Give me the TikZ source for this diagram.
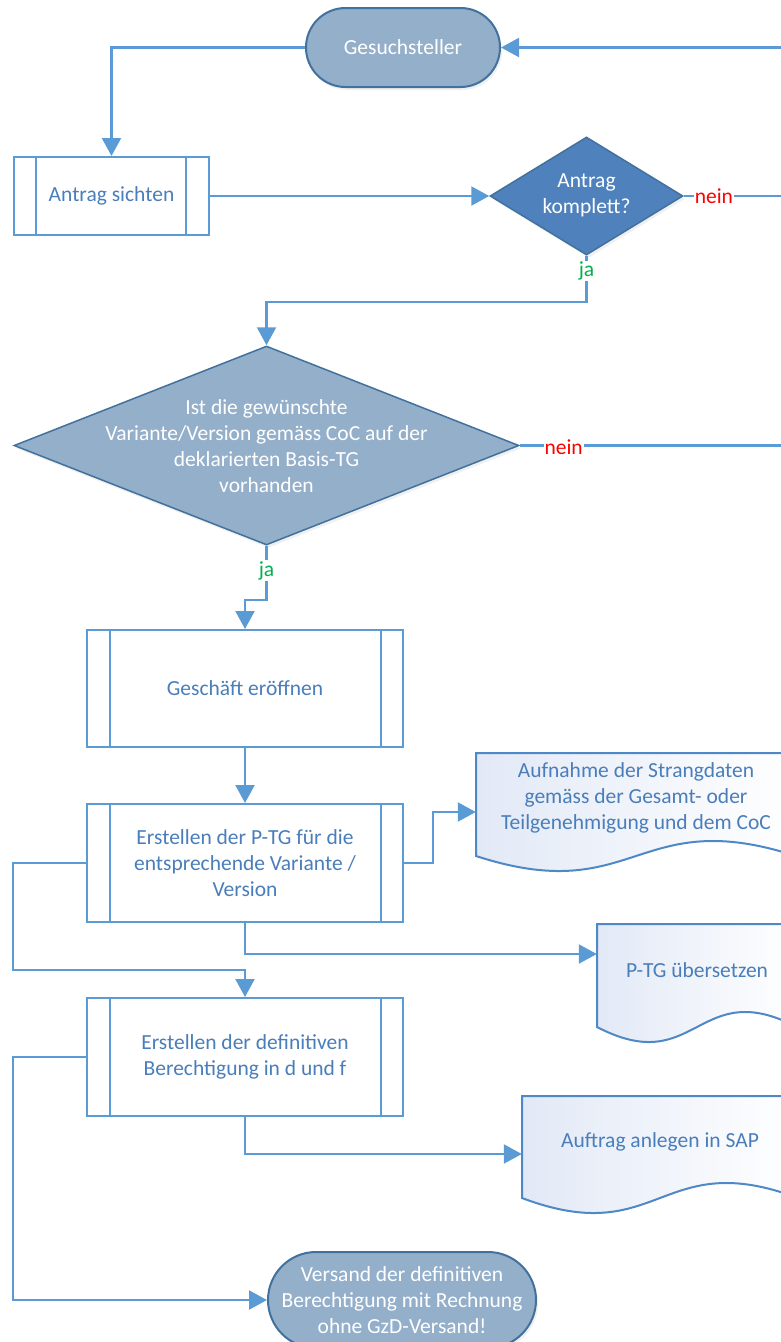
\documentclass[tikz,border=0pt]{standalone}
\usepackage{fontspec}
\setmainfont{Carlito}
\usetikzlibrary{arrows.meta,shapes.geometric,shadows}
\definecolor{lineblue}{HTML}{5B9BD5}
\definecolor{boxtext}{HTML}{4A7EBB}
\definecolor{termfill}{HTML}{94AFCA}
\definecolor{darkedge}{HTML}{41719C}
\definecolor{diafill}{HTML}{4F81BD}
\definecolor{docedge}{HTML}{4F88C6}
\definecolor{docfill}{HTML}{E2E9F6}
\definecolor{neinred}{HTML}{FF0000}
\definecolor{jagreen}{HTML}{00B050}
\begin{document}
\begin{tikzpicture}[x=1pt,y=-1pt,
  font=\fontsize{21.5}{26}\selectfont,
  conn/.style={draw=lineblue, line width=2.2pt},
  arr/.style={conn, -{Triangle[length=18pt,width=19pt]}},
  softshadow/.style={drop shadow={opacity=0.12, shadow xshift=2pt, shadow yshift=-3pt}},
  term/.style={rectangle, draw=darkedge, line width=2pt, fill=termfill, text=white, inner sep=0, align=center, softshadow},
  proc/.style={rectangle, draw=lineblue, line width=2pt, fill=white, text=boxtext, align=center, inner sep=0},
  procline/.style={draw=lineblue, line width=2pt},
  decision/.style={diamond, draw=darkedge, line width=1.5pt, inner sep=0, softshadow},
  whitetext/.style={text=white, align=center, inner sep=0},
  docshape/.style={draw=docedge, line width=2pt, left color=docfill, right color=white},
  doctext/.style={text=boxtext, align=center, inner sep=0},
  neinlabel/.style={fill=white, text=neinred, inner sep=1pt},
  jalabel/.style={fill=white, text=jagreen, inner sep=1pt}
]
\useasboundingbox (0,0) rectangle (781,1342);
\clip (0,0) rectangle (781,1342);

% document shapes
\path[docshape] (476,753) -- (796,753) -- (796,856) .. controls (636,804) and (636,908) .. (476,856) -- cycle;
\path[docshape] (597,924) -- (797,924) -- (797,1027) .. controls (697,975) and (697,1079) .. (597,1027) -- cycle;
\path[docshape] (522,1096) -- (798,1096) -- (798,1198) .. controls (660,1146) and (660,1250) .. (522,1198) -- cycle;

% nodes
\node[term, rounded corners=39.5pt, minimum width=194, minimum height=79] (gs) at (403,47.5) {Gesuchsteller};
\node[proc, minimum width=195, minimum height=78] (as) at (111.5,196) {Antrag sichten};
\draw[procline] ([xshift=23]as.north west) -- ([xshift=23]as.south west);
\draw[procline] ([xshift=-24]as.north east) -- ([xshift=-24]as.south east);

\node[decision, fill=diafill, minimum width=193, minimum height=118] (d1) at (586.5,196) {};
\node[whitetext] (d1t) at (586.5,195) {Antrag\\komplett?};

\node[decision, fill=termfill, minimum width=505, minimum height=199] (bd) at (266.5,445.5) {};
\node[whitetext] (bdt) at (266.5,446) {Ist die gewünschte\\Variante/Version gemäss CoC auf der\\deklarierten Basis-TG\\vorhanden};

\node[proc, minimum width=316, minimum height=117] (ge) at (245,688.5) {Geschäft eröffnen};
\draw[procline] ([xshift=24]ge.north west) -- ([xshift=24]ge.south west);
\draw[procline] ([xshift=-23]ge.north east) -- ([xshift=-23]ge.south east);

\node[proc, minimum width=316, minimum height=118] (pt) at (245,863) {Erstellen der P-TG für die\\entsprechende Variante /\\Version};
\draw[procline] ([xshift=24]pt.north west) -- ([xshift=24]pt.south west);
\draw[procline] ([xshift=-23]pt.north east) -- ([xshift=-23]pt.south east);

\node[proc, minimum width=316, minimum height=118] (ed) at (245,1057) {Erstellen der definitiven\\Berechtigung in d und f};
\draw[procline] ([xshift=24]ed.north west) -- ([xshift=24]ed.south west);
\draw[procline] ([xshift=-23]ed.north east) -- ([xshift=-23]ed.south east);

\node[doctext, minimum width=320, minimum height=90] (doc1) at (636,798) {Aufnahme der Strangdaten\\gemäss der Gesamt- oder\\Teilgenehmigung und dem CoC};
\node[doctext, minimum width=200, minimum height=92] (doc2) at (697,970) {P-TG übersetzen};
\node[doctext, minimum width=276, minimum height=92] (doc3) at (660,1142) {Auftrag anlegen in SAP};

\node[term, rounded corners=48pt, minimum width=268, minimum height=96] (vs) at (402,1300) {Versand der definitiven\\Berechtigung mit Rechnung\\ohne GzD-Versand!};

% free ends at the right margin
\coordinate (rin) at (781,47.5);
\coordinate (rout1) at (781,196);
\coordinate (rout2) at (781,445.5);

% connectors
\draw[arr] (rin) -- (gs.east);
\draw[arr] (gs.west) -| (as.north);
\draw[arr] (as.east) -- (d1.west);
\draw[conn] (d1.east) -- node[neinlabel, pos=0.31] {nein} (rout1);
\draw[arr] (d1.south) -- node[jalabel, pos=0.33] {ja} ++(0,46) -| (bd.north);
\draw[conn] (bd.east) -- node[neinlabel, pos=0.168, yshift=-2pt] {nein} (rout2);
\draw[arr] (bd.south) -- node[jalabel, pos=0.46] {ja} ++(0,54) -| (ge.north);
\draw[arr] (ge.south) -- (pt.north);
\draw[arr] (pt.east) -- ++(29,0) |- ([yshift=-14pt]doc1.west);
\draw[arr] (pt.south) |- ([yshift=16pt]doc2.west);
\draw[arr] (pt.west) -- ++(-73,0) -- ++(0,107) -| (ed.north);
\draw[arr] (ed.south) |- ([yshift=-12pt]doc3.west);
\draw[arr] (ed.west) -- ++(-73,0) |- (vs.west);
\end{tikzpicture}
\end{document}
